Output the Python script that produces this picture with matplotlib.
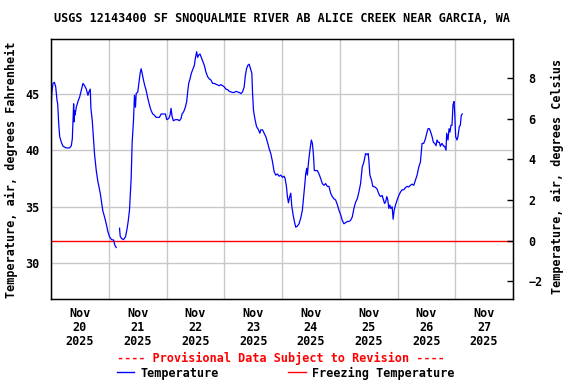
import matplotlib
matplotlib.use("Agg")
import matplotlib.pyplot as plt
import matplotlib.dates as mdates
from matplotlib.lines import Line2D
import numpy as np

# ---- data -------------------------------------------------------------
title = "USGS 12143400 SF SNOQUALMIE RIVER AB ALICE CREEK NEAR GARCIA, WA"
start = np.datetime64("2025-11-20T00:00")
x_start = np.datetime64("2025-11-20T00:00")
x_end = np.datetime64("2025-11-28T00:00")
freezing_f = 32.0

hours = [
    0.05, 0.3, 0.84, 1.40, 1.95, 2.50, 2.78, 3.19, 3.61, 4.30, 4.99, 6.37, 7.75, 8.44, 8.86,
    9.41, 9.6, 9.8, 9.96, 10.51, 11.20, 11.90, 12.59, 13.28, 13.97, 14.66, 15.35, 15.76, 16.32,
    16.59, 17.15, 17.70, 18.11, 18.81, 19.50, 19.91, 20.46, 21.02, 21.57, 22.26, 22.95, 23.64,
    24.33, 25.16, 25.99, 26.54, 27.10, 27.8, 28.48, 28.75, 29.31, 30.14, 30.96, 31.52, 32.07,
    32.62, 33.04, 33.31, 33.73, 34.28, 34.69, 35.11, 35.39, 36.07, 36.49, 37.04, 37.46, 37.87,
    38.43, 38.98, 39.53, 40.22, 40.91, 41.60, 42.29, 42.98, 43.68, 44.37, 45.06, 45.75, 46.44,
    47.54, 48.10, 48.92, 49.48, 49.89, 50.31, 50.86, 51.69, 52.66, 53.35, 54.04, 54.46, 55.14,
    55.83, 56.39, 56.80, 57.22, 57.77, 58.32, 58.87, 59.57, 59.98, 60.53, 60.95, 61.36, 61.92,
    62.47, 63.02, 63.71, 64.40, 65.09, 65.78, 66.47, 67.16, 67.85, 68.82, 69.93, 70.62, 71.31,
    72.00, 72.69, 73.38, 74.07, 74.76, 75.45, 76.15, 76.84, 77.53, 78.22, 78.91, 79.60, 80.29,
    80.71, 81.26, 81.81, 82.36, 82.92, 83.47, 83.74, 84.16, 84.71, 85.40, 86.23, 86.79, 87.20,
    87.89, 88.58, 89.27, 89.96, 90.65, 91.34, 92.03, 92.73, 93.42, 94.11, 94.80, 95.49, 96.18,
    96.87, 97.29, 97.84, 98.25, 98.67, 99.22, 99.64, 100.05, 100.60, 101.15, 101.71, 102.40,
    103.09, 103.78, 104.47, 104.88, 105.44, 105.85, 106.27, 106.54, 106.96, 107.37, 107.79,
    108.20, 108.62, 109.03, 109.45, 110.00, 110.69, 111.38, 112.07, 112.76, 113.45, 114.14,
    114.83, 115.52, 116.22, 116.91, 117.60, 118.29, 118.98, 119.67, 120.36, 121.05, 121.74,
    122.43, 123.12, 123.81, 124.51, 125.20, 125.89, 126.58, 127.27, 127.96, 128.65, 129.34,
    130.03, 130.72, 131.41, 131.83, 132.10, 132.52, 133.21, 133.76, 134.59, 135.42, 135.97,
    136.53, 137.08, 137.63, 138.18, 138.60, 139.01, 139.57, 139.98, 140.40, 140.81, 141.23,
    141.78, 142.19, 142.61, 143.16, 143.85, 144.54, 145.23, 145.92, 146.61, 147.30, 147.99,
    148.68, 149.38, 150.07, 150.76, 151.45, 152.14, 152.83, 153.52, 153.94, 154.21, 154.90,
    155.59, 156.15, 156.70, 157.25, 157.80, 158.36, 158.91, 159.46, 160.02, 160.43, 160.85,
    161.40, 161.81, 162.50, 163.19, 163.61, 164.16, 164.44, 164.99, 165.41, 165.82, 166.23,
    166.65, 167.06, 167.48, 167.75, 168.17, 168.72, 169.13, 169.69, 170.10, 170.52, 170.93,
]
temp_f = [
    43.4, 45.0, 45.9, 46.0, 45.6, 44.4, 44.1, 42.4, 41.2, 40.7, 40.35, 40.2, 40.2, 40.4, 41.0,
    44.1, 42.5, 43.5, 43.1, 43.8, 44.3, 44.7, 45.3, 45.9, 45.7, 45.4, 44.85, 45.15, 45.4,
    43.7, 42.6, 40.9, 39.6, 38.2, 37.2, 36.8, 36.2, 35.4, 34.6, 34.1, 33.5, 32.8,
    32.35, 32.1, 32.06, 31.6, 31.4, np.nan, 33.1, 32.4, 32.2, 32.1, 32.35, 32.95, 33.7,
    34.7, 36.5, 37.5, 40.7, 42.6, 44.85, 43.8, 45.0, 45.15, 45.9, 46.8, 47.2, 46.8,
    46.2, 45.7, 45.3, 44.6, 44.0, 43.5, 43.2, 43.1, 42.9, 42.9, 42.9, 43.2, 43.2,
    43.2, 42.7, 42.8, 43.1, 43.7, 43.0, 42.6, 42.7, 42.7, 42.6, 42.8, 43.2, 43.4,
    43.8, 44.3, 45.15, 45.9, 46.3, 46.8, 47.1, 47.5, 48.1, 48.7, 48.2, 48.4, 48.5,
    48.2, 47.9, 47.5, 46.9, 46.5, 46.3, 46.2, 45.9, 45.9, 45.8, 45.7, 45.8, 45.7,
    45.6, 45.4, 45.35, 45.2, 45.15, 45.1, 45.1, 45.2, 45.15, 45.1, 45.0, 45.15, 45.6,
    46.5, 47.2, 47.5, 47.6, 47.2, 46.8, 45.15, 43.5, 42.8, 42.1, 41.8, 41.5, 41.8,
    41.8, 41.5, 41.2, 40.7, 40.15, 39.7, 39.0, 38.1, 37.8, 37.9, 37.7, 37.8, 37.6,
    37.7, 37.5, 36.8, 35.9, 35.35, 35.9, 36.2, 35.1, 34.3, 33.7, 33.2, 33.3,
    33.5, 34.0, 34.7, 35.6, 36.9, 37.9, 38.4, 37.8, 38.8, 39.6, 40.3,
    40.9, 40.6, 39.7, 38.2, 38.2, 38.2, 37.9, 37.5, 37.05, 36.9, 37.05,
    36.8, 36.8, 36.2, 35.9, 35.7, 35.6, 35.2, 34.7, 34.3, 33.8, 33.5,
    33.6, 33.7, 33.7, 33.8, 34.1, 34.85, 35.4, 35.7, 36.3, 37.05, 38.5,
    38.95, 39.7, 39.6, 39.7, 39.1, 37.8, 37.35, 36.8, 36.75, 36.6, 36.3,
    36.0, 35.9, 36.0, 35.6, 35.3, 35.4, 35.9, 35.6, 34.85, 35.15, 34.85,
    35.0, 33.9, 34.7, 35.15, 35.6, 36.0, 36.3, 36.5, 36.5, 36.7, 36.8,
    36.75, 36.9, 37.0, 36.9, 37.35, 37.8, 38.5, 38.95, 39.9, 40.6, 40.6,
    41.0, 41.5, 41.9, 41.9, 41.6, 41.2, 40.7, 40.6, 40.4, 40.9, 40.7,
    40.7, 40.35, 40.6, 40.35, 40.35, 40.0, 41.5, 40.9, 41.9, 41.6, 42.2,
    42.2, 44.0, 44.3, 43.4, 41.2, 40.9, 41.2, 42.1, 42.2, 43.1, 43.2,
]
y_lim_f = (26.85, 49.8)
f_ticks = [30, 35, 40, 45]
c_ticks = [-2, 0, 2, 4, 6, 8]

# ---- style -------------------------------------------------------------
FONT = "DejaVu Sans Mono"
FS = 8.5
plt.rcParams["font.family"] = FONT
plt.rcParams["font.weight"] = "bold"
plt.rcParams["font.size"] = FS

times = start + (np.array(hours) * 3600).astype("timedelta64[s]")
temp = np.array(temp_f, dtype=float)

fig = plt.figure(figsize=(5.76, 3.84), dpi=100)
ax = fig.add_axes([51 / 576, 1 - 299 / 384, 462 / 576, (299 - 39.3) / 384])

ax.plot(times, temp, color="#0000FF", lw=0.9, zorder=3)
ax.axhline(freezing_f, color="#FF0000", lw=1.0, zorder=2)

ax.set_xlim(x_start, x_end)
ax.set_ylim(*y_lim_f)
ax.set_yticks(f_ticks)

ax.xaxis.set_major_locator(mdates.DayLocator())
ax.xaxis.set_major_formatter(matplotlib.ticker.NullFormatter())
ax.xaxis.set_minor_locator(mdates.HourLocator(byhour=12))
ax.xaxis.set_minor_formatter(mdates.DateFormatter("%b\n%d\n%Y"))
ax.tick_params(axis="x", which="both", length=0, pad=6)
for lbl in ax.xaxis.get_minorticklabels():
    lbl.set_linespacing(1.1)
ax.tick_params(axis="y", length=0, pad=8)

ax.grid(True, which="major", color="#c8c8c8", lw=1.0, zorder=0)
for s in ax.spines.values():
    s.set_linewidth(1.0)

ax2 = ax.twinx()
ax2.set_ylim((y_lim_f[0] - 32) / 1.8, (y_lim_f[1] - 32) / 1.8)
ax2.set_yticks(c_ticks)
ax2.tick_params(axis="y", direction="in", length=4, width=1, pad=11)

fig.text(282 / 576, 1 - 19 / 384, title, ha="center", va="center", fontsize=FS)
fig.text(11.5 / 576, 1 - 170 / 384, "Temperature, air, degrees Fahrenheit",
         rotation=90, ha="center", va="center", fontsize=FS)
fig.text(557.5 / 576, 1 - 176 / 384, "Temperature, air, degrees Celsius",
         rotation=90, ha="center", va="center", fontsize=FS)
fig.text(281.3 / 576, 1 - 358 / 384, "---- Provisional Data Subject to Revision ----",
         color="#FF0000", ha="center", va="center", fontsize=FS)

handles = [Line2D([], [], color="#0000FF", lw=1.0), Line2D([], [], color="#FF0000", lw=1.0)]
fig.legend(handles, ["Temperature", "Freezing Temperature"], loc="center",
           bbox_to_anchor=(285.5 / 576, 1 - 373 / 384), ncol=2, frameon=False,
           handlelength=1.5, handletextpad=0.5, columnspacing=5.9,
           borderpad=0, borderaxespad=0, fontsize=FS)

fig.savefig("out.png", dpi=100)
